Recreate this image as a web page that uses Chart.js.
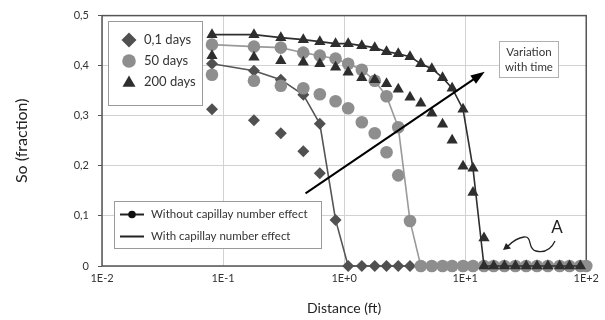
<!DOCTYPE html>
<html><head><meta charset="utf-8">
<script src="https://cdn.jsdelivr.net/npm/chart.js@4"></script>
<style>html,body{margin:0;padding:0;background:#fff;}canvas{display:block;}</style>
</head><body>
<canvas id="c" width="605" height="320"></canvas>
<script>
// ---- data ----
const distance = [0.081,0.18,0.30,0.46,0.63,0.85,1.08,1.4,1.79,2.24,2.8,3.5,4.3,5.3,6.5,7.8,9.6,11.6,14.3,17.2,21.1,26,31.9,39.2,48.2,60.3,72.7,89.4,100];
const N = null;
// curves drawn with line + markers
const sharp01  = [0.404,0.39,0.372,0.342,0.284,0.092,0,0,0,0,0,0,N,N,N,N,N,N,N,N,N,N,N,N,N,N,N,N,N];
const sharp50  = [0.442,0.438,0.436,0.426,0.42,0.414,0.404,0.392,0.37,0.339,0.277,0.09,0,0,0,0,0,0,0,0,0,0,0,0,0,0,0,0,0];
const sharp200 = [0.462,0.462,0.456,0.452,0.448,0.444,0.444,0.44,0.436,0.428,0.424,0.418,0.404,0.394,0.376,0.355,0.313,0.195,0,0,0,0,0,0,0,0,0,0,N];
// markers only
const spread01  = [0.313,0.291,0.265,0.229,0.185,N,N,N,N,N,N,N,N,N,N,N,N,N,N,N,N,N,N,N,N,N,N,N,N];
const spread50  = [0.382,0.37,0.36,0.355,0.343,0.329,0.315,0.287,0.265,0.227,0.181,N,N,N,N,N,N,N,N,N,N,N,N,N,N,N,N,N,N];
const spread200 = [0.42,0.417,0.41,0.407,0.404,0.397,0.387,0.376,0.372,0.364,0.353,0.337,0.325,0.305,0.283,0.251,0.199,0.147,0.056,N,N,N,N,N,N,N,N,N,N];
const xTicks = [0.01,0.1,1,10,100];
const yTicks = [0,0.1,0.2,0.3,0.4,0.5];
const seriesNames = ['0,1 days','50 days','200 days'];
const effectNames = ['Without capillay number effect','With capillay number effect'];
// annotation arrow in data space
const arrowFrom = {x:0.48, y:0.145};
const arrowTo = {x:14.5, y:0.388};

const pts = arr => distance.map((x,i)=>({x:x, y:arr[i]}));
const C01='#505050', C50='#8e8e8e', C200='#2e2e2e';

function ds(arr, color, lineColor, style, r, line){
  return {data:pts(arr), showLine:line, spanGaps:true, borderColor:lineColor, backgroundColor:color,
    pointBackgroundColor:color, pointBorderColor:color, pointBorderWidth:0, borderWidth:1.6,
    pointStyle:style, pointRadius:r, pointHoverRadius:r, clip:false};
}

Chart.defaults.font.family = 'Lato, "Open Sans", sans-serif';
Chart.defaults.color = '#333';

const extras = {
  id:'extras',
  beforeDatasetsDraw(chart){
    const {ctx, chartArea:a} = chart;
    ctx.save(); ctx.strokeStyle='#555'; ctx.lineWidth=1.5;
    ctx.strokeRect(a.left, a.top, a.right-a.left, a.bottom-a.top); ctx.restore();
  },
  afterDatasetsDraw(chart){
    const {ctx} = chart; const xs = chart.scales.x, ys = chart.scales.y;
    const H = Chart.helpers;
    ctx.save();
    // legend 1
    ctx.fillStyle='#fff'; ctx.strokeStyle='#9a9a9a'; ctx.lineWidth=1;
    ctx.fillRect(108.5,21.5,94,84); ctx.strokeRect(108.5,21.5,94,84);
    const lm = [[C01,'rectRot',7.5],[C50,'circle',6.8],[C200,'triangle',7.5]];
    const ly = [40,61,82];
    ctx.font='13px Lato, "Open Sans", sans-serif'; ctx.textBaseline='middle'; ctx.textAlign='left';
    for(let i=0;i<3;i++){
      ctx.fillStyle=lm[i][0];
      H.drawPoint(ctx,{pointStyle:lm[i][1],radius:lm[i][2],borderWidth:0,rotation:0},129,ly[i]+(i===2?1:0));
      ctx.fillStyle='#333'; ctx.fillText(seriesNames[i],144,ly[i]);
    }
    // legend 2
    ctx.fillStyle='#fff'; ctx.strokeStyle='#9a9a9a'; ctx.lineWidth=1;
    ctx.fillRect(114.5,201.5,207,47); ctx.strokeRect(114.5,201.5,207,47);
    ctx.strokeStyle='#222'; ctx.lineWidth=2;
    ctx.beginPath(); ctx.moveTo(120,214.5); ctx.lineTo(144,214.5); ctx.stroke();
    ctx.beginPath(); ctx.moveTo(120,236.5); ctx.lineTo(144,236.5); ctx.stroke();
    ctx.fillStyle='#111'; ctx.beginPath(); ctx.arc(132,214.5,3.8,0,Math.PI*2); ctx.fill();
    ctx.font='11.5px Lato, "Open Sans", sans-serif'; ctx.fillStyle='#333';
    ctx.fillText(effectNames[0],151,214); ctx.fillText(effectNames[1],151,236);
    // variation box
    ctx.fillStyle='#fff'; ctx.strokeStyle='#b0b0b0'; ctx.lineWidth=1;
    ctx.fillRect(499.5,41.5,59,36); ctx.strokeRect(499.5,41.5,59,36);
    ctx.fillStyle='#333'; ctx.textAlign='center'; ctx.font='11.5px Lato, "Open Sans", sans-serif';
    ctx.fillText('Variation',529,52); ctx.fillText('with time',529,67);
    // arrow
    const x1=xs.getPixelForValue(arrowFrom.x), y1=ys.getPixelForValue(arrowFrom.y);
    const x2=xs.getPixelForValue(arrowTo.x), y2=ys.getPixelForValue(arrowTo.y);
    const ang=Math.atan2(y2-y1,x2-x1);
    ctx.strokeStyle='#000'; ctx.fillStyle='#000'; ctx.lineWidth=2;
    ctx.beginPath(); ctx.moveTo(x1,y1); ctx.lineTo(x2-10*Math.cos(ang),y2-10*Math.sin(ang)); ctx.stroke();
    ctx.beginPath(); ctx.moveTo(x2,y2);
    ctx.lineTo(x2-14*Math.cos(ang)+5*Math.sin(ang), y2-14*Math.sin(ang)-5*Math.cos(ang));
    ctx.lineTo(x2-14*Math.cos(ang)-5*Math.sin(ang), y2-14*Math.sin(ang)+5*Math.cos(ang));
    ctx.closePath(); ctx.fill();
    // "A" annotation
    ctx.font='17px Lato, "Open Sans", sans-serif'; ctx.fillStyle='#222';
    ctx.fillText('A',557,228);
    ctx.strokeStyle='#222'; ctx.lineWidth=1.3;
    ctx.beginPath(); ctx.moveTo(555,241);
    ctx.quadraticCurveTo(549,254,536,251);
    ctx.bezierCurveTo(527,249,533,236,524,237);
    ctx.quadraticCurveTo(516,238,508,246);
    ctx.stroke();
    ctx.beginPath(); ctx.moveTo(503,250); ctx.lineTo(511,248.5); ctx.lineTo(506,243); ctx.closePath(); ctx.fill();
    ctx.restore();
  }
};

new Chart(document.getElementById('c'), {
  type:'scatter',
  data:{datasets:[
    ds(sharp200,C200,C200,'triangle',6.5,true),
    ds(spread200,C200,C200,'triangle',6.5,false),
    ds(sharp50,C50,'#9a9a9a','circle',6.3,true),
    ds(spread50,C50,C50,'circle',6.3,false),
    ds(sharp01,C01,'#555','rectRot',6,true),
    ds(spread01,C01,C01,'rectRot',6,false)
  ]},
  options:{
    responsive:false, animation:false, devicePixelRatio:1,
    layout:{padding:{left:0,right:12,top:15,bottom:0}},
    plugins:{legend:{display:false}, tooltip:{enabled:false}},
    events:[],
    scales:{
      x:{type:'logarithmic', min:0.01, max:100,
        afterBuildTicks:s=>{s.ticks = xTicks.map(v=>({value:v}));},
        ticks:{autoSkip:false, maxRotation:0, padding:6, font:{size:11}, color:'#333',
          callback:v=>{const e=Math.round(Math.log10(v)); return '1E'+(e>=0?'+':'')+e;}},
        grid:{color:'#d2d2d2', lineWidth:1, drawTicks:false},
        border:{display:false},
        title:{display:true, text:'Distance (ft)', font:{size:14}, color:'#222', padding:{top:0,bottom:3}},
        afterFit:s=>{s.height=54;}
      },
      y:{min:0, max:0.5,
        afterBuildTicks:s=>{s.ticks = yTicks.map(v=>({value:v}));},
        ticks:{padding:9, font:{size:11}, color:'#333',
          callback:v=> v===0 ? '0' : v.toFixed(1).replace('.',',')},
        grid:{color:'#d2d2d2', lineWidth:1, tickLength:4, tickColor:'#555'},
        border:{display:false},
        title:{display:true, text:'So (fraction)', font:{size:16}, color:'#222', padding:{top:12,bottom:0}},
        afterFit:s=>{s.width=102;}
      }
    }
  },
  plugins:[extras]
});
</script>
</body></html>
